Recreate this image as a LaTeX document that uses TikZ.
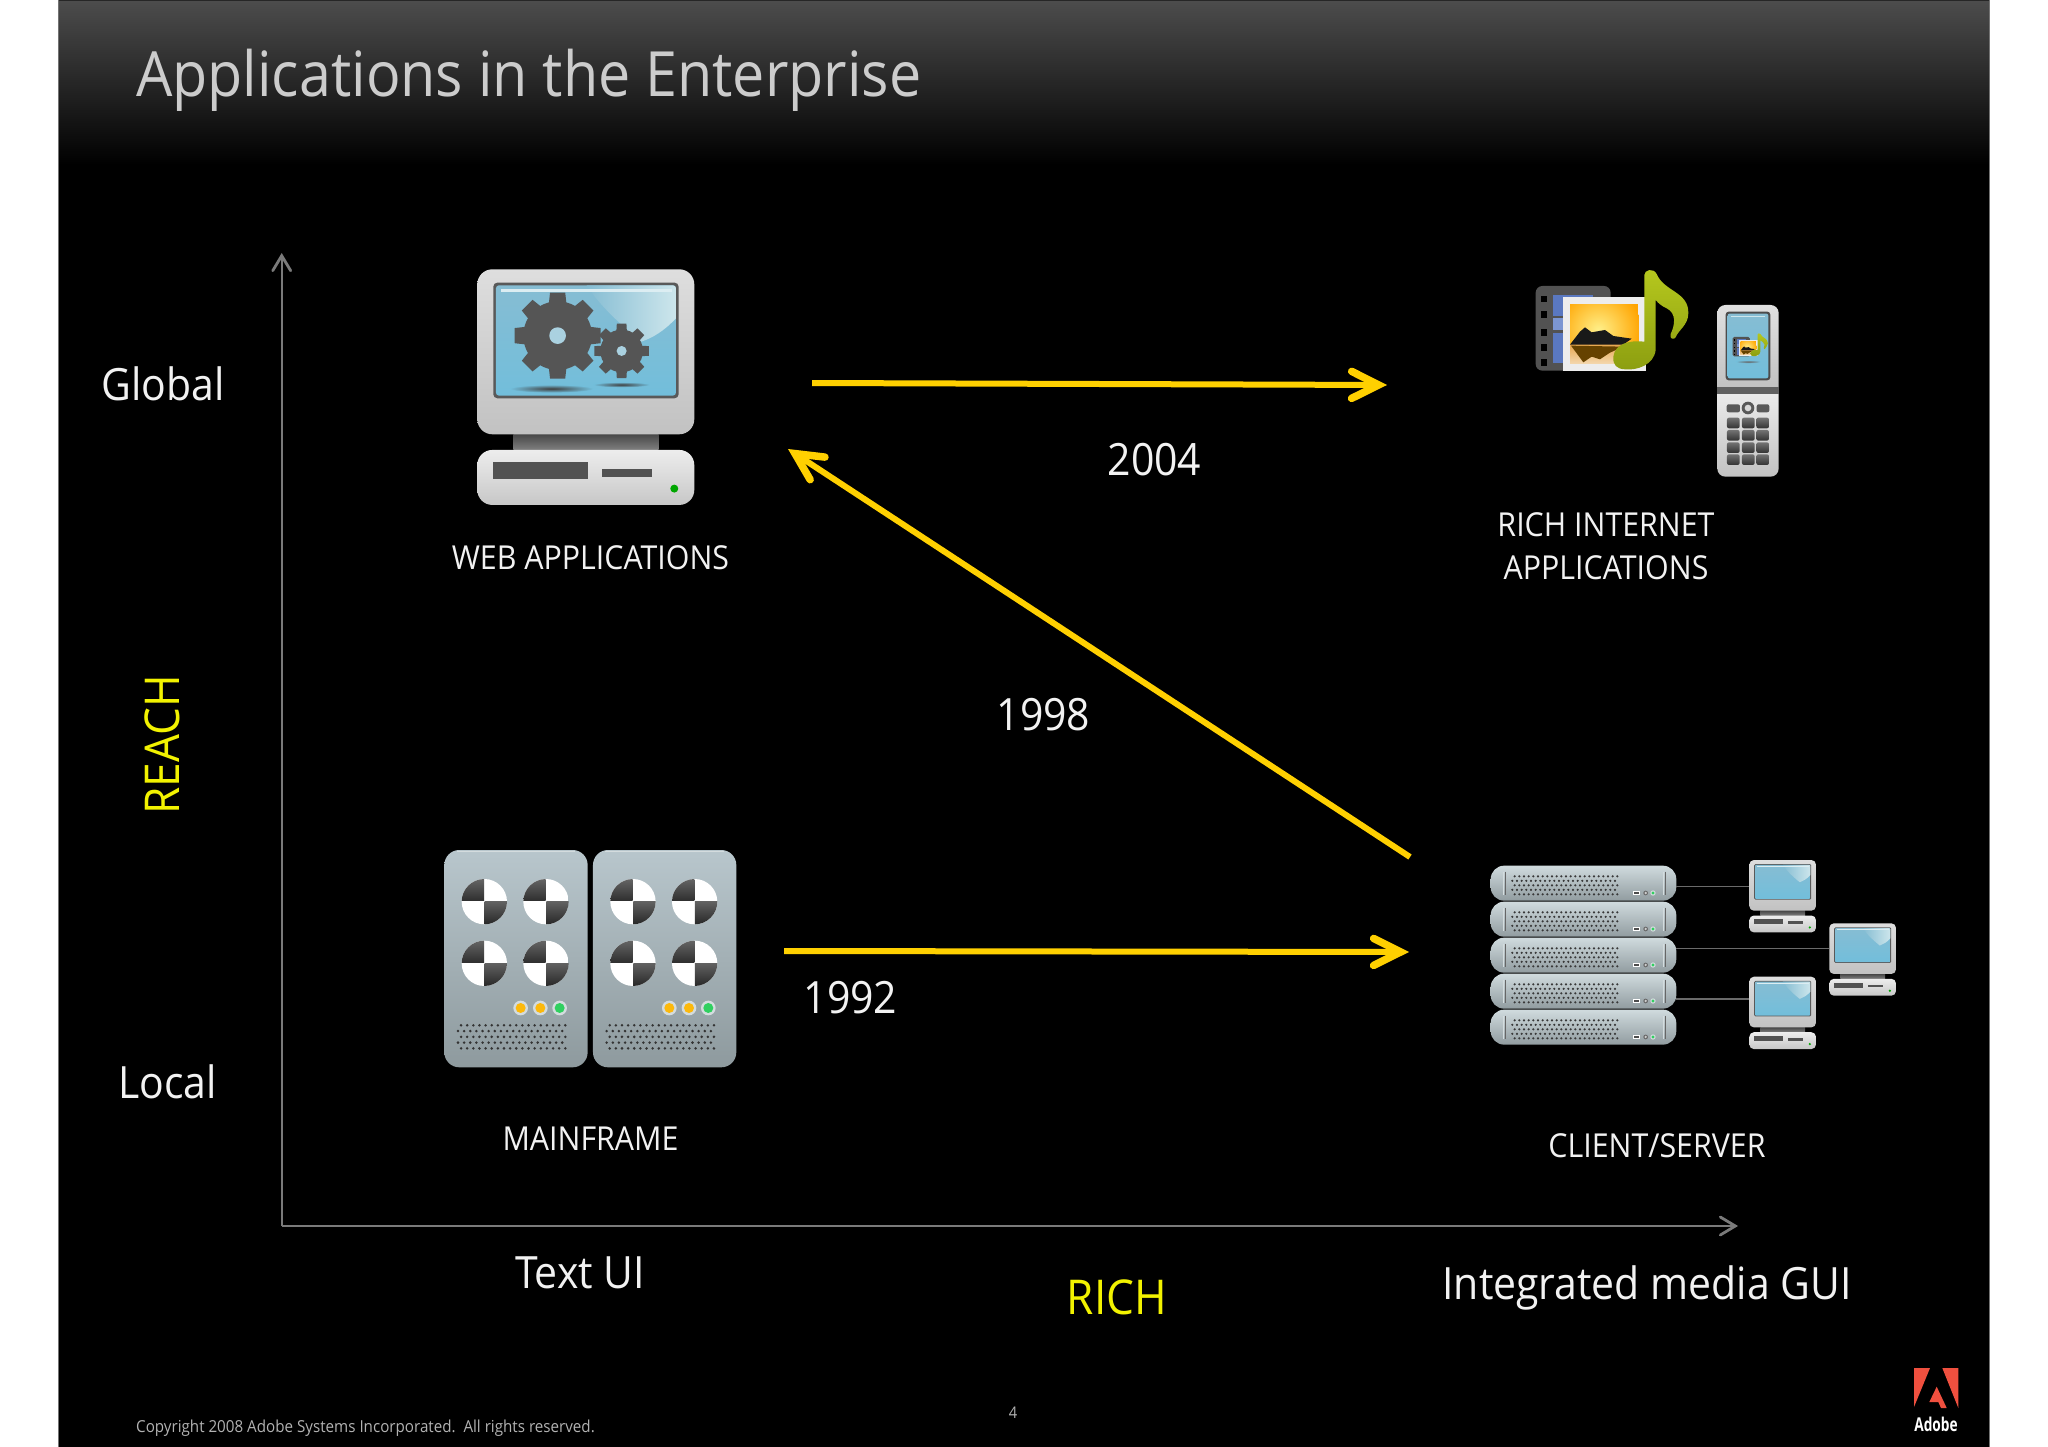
\documentclass[tikz,border=0pt]{standalone}
\usepackage{fontspec}
\setmainfont[FakeStretch=0.92]{Open Sans}
\newfontfamily\adobefont[FakeStretch=0.72]{Open Sans}
\usetikzlibrary{arrows.meta}
\definecolor{arrowy}{HTML}{FFD000}
\definecolor{labely}{HTML}{F2F200}
\definecolor{axisg}{HTML}{7A7A7A}
\definecolor{wirec}{HTML}{6A6A6A}
\definecolor{gearc}{HTML}{555555}
\definecolor{adobered}{HTML}{F0503F}
\definecolor{labelw}{HTML}{F2F2F2}
\tikzset{
  lbl/.style={anchor=base,text=labelw,inner sep=0pt,font=\fontsize{33}{33}\selectfont},
  biglbl/.style={lbl,font=\fontsize{44.5}{44.5}\selectfont},
  ylbl/.style={lbl,text=labely,font=\fontsize{48}{48}\selectfont},
  flow/.style={draw=arrowy,line width=6pt,-{Straight Barb[length=27pt,width=27pt,line width=7.5pt,line cap=round,line join=miter]}},
  axisline/.style={draw=axisg,line width=2.4pt,-{Straight Barb[length=15pt,width=18pt,line width=2.8pt,line cap=round,line join=miter]}},
  wire/.style={draw=wirec,line width=1.6pt},
}
% gear: cx cy root tip holeR
\newcommand{\gearshape}[5]{%
  \fill[gearc] (#1,#2) circle (#3);
  \foreach \a in {0,45,...,315}{
    \fill[gearc] ([shift={(#1,#2)}]\a-16:#3-6) -- ([shift={(#1,#2)}]\a-10:#4) -- ([shift={(#1,#2)}]\a+10:#4) -- ([shift={(#1,#2)}]\a+16:#3-6) -- cycle;
  }
  \fill[HiA!70!white] (#1,#2) circle (#5);
}
\definecolor{HiA}{HTML}{86BDD3}
\definecolor{HiB}{HTML}{72BEDB}
\definecolor{HiC}{HTML}{CDE6EC}
% computer: X Y scale (X,Y = top-left of monitor, px) ; #4 extra drawing in screen
\newcommand{\pccomp}[4]{%
\begin{scope}[shift={({#1-112*#3},{#2-58*#3})},x=#3pt,y=-#3pt]
  \shade[top color=black!72,bottom color=black!50] (220,553) rectangle (656,600);
  \shade[top color=black!13,bottom color=black!24,rounded corners={#3*45pt}] (112,58) rectangle (763,553);
  \shade[top color=black!7,bottom color=black!22,rounded corners={#3*45pt}] (112,600) rectangle (763,765);
  \fill[black!68] (160,637) rectangle (443,686);
  \fill[black!68] (487,657) rectangle (635,682);
  \fill[green!65!black] (703,716) circle (12);
  \fill[black!65,rounded corners={#3*12pt}] (160,98) rectangle (716,445);
  \begin{scope}
    \clip[rounded corners={#3*9pt}] (168,106) rectangle (708,437);
    \shade[top color=HiA,bottom color=HiB] (168,106) rectangle (708,437);
    \shade[left color=HiA,right color=HiC] (440,106) -- (708,106) -- (708,205) .. controls (670,245) and (640,262) .. (605,275) .. controls (560,240) and (480,170) .. (440,106) -- cycle;
    \draw[line width={#3*9pt},HiC!70!white] (183,122) -- (695,122);
    #4
  \end{scope}
\end{scope}}
% media icon
\definecolor{HTML5A}{HTML}{5A78C0}
\definecolor{HTML7A}{HTML}{7C96D2}
\definecolor{HTMLFA}{HTML}{FFA400}
\definecolor{HTMLFE}{HTML}{FFF08A}
\definecolor{HTMLFB}{HTML}{E8A850}
\definecolor{HTMLFC}{HTML}{F4D8B0}
\definecolor{HTMLGA}{HTML}{B6C81E}
\definecolor{HTMLGB}{HTML}{8C9E10}
\newcommand{\mediaicon}[3]{%
\begin{scope}[shift={(#1,#2)},x=#3pt,y=-#3pt]
  \fill[black!68,rounded corners={#3*20pt}] (77,108) rectangle (302,362);
  \foreach \v in {137,183,237,283,328}{
    \fill[black] (92,\v) rectangle (111,\v+20);
  }
  \fill[HTML5A] (130,135) rectangle (250,198);
  \fill[HTML7A] (130,205) rectangle (165,240);
  \fill[HTML5A] (130,248) rectangle (165,340);
  \fill[white!93!black] (160,142) rectangle (407,362);
  \begin{scope}
    \clip (180,163) rectangle (385,342);
    \fill[HTMLFA] (180,163) rectangle (385,342);
    \shade[inner color=HTMLFE,outer color=HTMLFA] (265,240) circle (130);
    \shade[top color=HTMLFB,bottom color=HTMLFC] (180,284) rectangle (385,342);
    \fill[black!90] (180,284) -- (210,245) -- (225,232) -- (245,247) -- (285,240) -- (310,258) -- (365,266) -- (340,284) -- cycle;
    \fill[black!60!HTMLFA] (183,287) -- (220,337) -- (245,320) -- (270,328) -- (300,308) -- (340,290) -- cycle;
  \end{scope}
  \shade[top color=HTMLGA,bottom color=HTMLGB] (403,75) .. controls (403,60) and (430,52) .. (440,72) .. controls (462,125) and (537,125) .. (535,190) .. controls (535,225) and (505,240) .. (497,262) .. controls (492,270) and (478,268) .. (482,252) .. controls (495,225) and (500,190) .. (470,175) .. controls (455,168) and (445,160) .. (437,150) -- (437,300) .. controls (432,345) and (380,362) .. (345,358) .. controls (320,357) and (308,345) .. (310,320) .. controls (315,280) and (360,270) .. (403,275) -- cycle;
\end{scope}}
% dot grille
\newcommand{\grille}[6]{% x0 y0 dx dy cols rows
  \foreach \r in {1,...,#6}{
    \foreach \c in {1,...,#5}{
      \fill[black!80] ({#1+(\c-1)*#3+mod(\r,2)*#3/2},{#2+(\r-1)*#4}) circle (4.2);
    }
  }}
\newcommand{\disk}[2]{%
\begin{scope}
  \clip (#1,#2) circle (68);
  \fill[white] (#1-70,#2-70) rectangle (#1+70,#2+70);
  \shade[top color=black!60,bottom color=black!82] (#1-70,#2-70) rectangle (#1-1,#2-2);
  \shade[top color=black!62,bottom color=black!85] (#1+1,#2+0) rectangle (#1+70,#2+70);
\end{scope}}
\definecolor{HTMLCA}{HTML}{B8C6CC}
\definecolor{HTMLCB}{HTML}{AAB8BE}
\definecolor{HTMLCC}{HTML}{8E9A9E}
\definecolor{HTMLCD}{HTML}{D4DCDE}
\definecolor{HTMLLY}{HTML}{FCB90C}
\definecolor{HTMLLG}{HTML}{30D060}
\newcommand{\cabinet}[1]{%
  \shade[top color=HTMLCA,middle color=HTMLCB,bottom color=HTMLCC,rounded corners=15pt] (43+#1,60) rectangle (473+#1,712);
  \draw[HTMLCD,line width=1.5pt] (80+#1,65) -- (436+#1,65);
  \disk{163+#1}{215}\disk{348+#1}{215}\disk{163+#1}{400}\disk{348+#1}{400}
  \foreach \lx in {272,331}{
    \fill[HTMLCD] (\lx+#1,534) circle (22);
    \fill[HTMLLY] (\lx+#1,534) circle (15);
  }
  \fill[HTMLCD] (389+#1,534) circle (22);
  \fill[HTMLLG] (389+#1,534) circle (15);
  \grille{84+#1}{586}{18.4}{17.3}{18}{5}
}
\definecolor{HTMLRA}{HTML}{D0DBDE}
\definecolor{HTMLRB}{HTML}{B4C0C4}
\definecolor{HTMLRC}{HTML}{919CA0}
\newcommand{\rackunit}[1]{%
  \shade[top color=HTMLRA,middle color=HTMLRB,bottom color=HTMLRC,rounded corners=13.5pt] (62,#1) rectangle (619,#1+105);
  \draw[HTMLCD,line width=1.4pt] (100,#1+18) -- (100,#1+88);
  \draw[HTMLCD,line width=1.4pt] (581,#1+18) -- (581,#1+88);
  \draw[black!60,line width=.9pt] (105,#1+18) -- (105,#1+88);
  \draw[black!60,line width=.9pt] (586,#1+18) -- (586,#1+88);
  \foreach \r in {1,...,5}{
    \foreach \c in {1,...,23}{
      \fill[black!78] ({130+(\c-1)*14+mod(\r,2)*7-3},{#1+32+(\r-1)*13.5}) circle (3.6);
    }
  }
  \fill[white] (489,#1+77) rectangle (510,#1+88);
  \fill[black!70] (493,#1+80) rectangle (506,#1+85);
  \fill[black!60] (527,#1+82) circle (7);
  \fill[black!20] (527,#1+82) circle (4);
  \fill[HTMLCD] (549,#1+82) circle (8);
  \fill[HTMLLG] (549,#1+82) circle (5);
}
\begin{document}
\begin{tikzpicture}[x=1pt,y=-1pt]
\useasboundingbox (0,0) rectangle (2048,1447);
\fill[white] (0,0) rectangle (2048,1447);
\fill[black] (58.5,0) rectangle (1989,1447);
\shade[top color=black!70,bottom color=black] (58.5,0) rectangle (1989,165);
\draw[black!85,line width=1.5pt] (58.5,0.7) -- (1989,0.7);
\draw[black!55,line width=1pt] (58.5,0) -- (58.5,1447);
\draw[black!55,line width=1pt] (1989,0) -- (1989,1447);

% title and footer
\node[anchor=base west,inner sep=0pt,text=black!20,font=\fontsize{62.4}{62.4}\selectfont] (title) at (136,97) {Applications in the Enterprise};
\node[anchor=base west,inner sep=0pt,text=black!30,font=\fontsize{16.5}{17}\selectfont] (copy) at (136,1432) {Copyright 2008 Adobe Systems Incorporated.\ \ All rights reserved.};
\node[anchor=base,inner sep=0pt,text=black!30,font=\fontsize{16}{16}\selectfont] (pageno) at (1013,1418) {4};

% axes
\coordinate (origin) at (281.7,1226);
\coordinate (ytip) at (281.7,253);
\coordinate (xtip) at (1738,1226);
\draw[axisline] (origin) -- (ytip);
\draw[axisline] (origin) -- (xtip);

% axis labels
\node[biglbl] (global) at (163,400) {Global};
\node[biglbl] (local) at (167.5,1098) {Local};
\node[ylbl,rotate=90,anchor=center] (reach) at (162.5,745) {REACH};
\node[biglbl] (textui) at (580,1288) {Text UI};
\node[ylbl] (rich) at (1117,1314) {RICH};
\node[biglbl] (imgui) at (1647,1299) {Integrated media GUI};

% web applications icon
\pccomp{477.3}{269.3}{0.3333}{
  \shade[inner color=black!75,outer color=HiB] (335,416) ellipse (125 and 12);
  \shade[inner color=black!75,outer color=HiB] (545,404) ellipse (85 and 8);
  \gearshape{353}{257}{103}{131}{25}
  \gearshape{545}{303}{64}{83}{15}
}
\node[lbl] (webl) at (590.5,569) {WEB APPLICATIONS};

% RIA icons
\mediaicon{1510}{250}{0.3333}
\begin{scope}[shift={(1510,250)},x=0.3333pt,y=-0.3333pt]
  \shade[top color=black!12,bottom color=black!24] (622,412) [rounded corners=8pt] -- (622,165) -- (806,165) [sharp corners] -- (806,412) -- cycle;
  \shade[top color=black!8,bottom color=black!24] (622,431) [rounded corners=8pt] -- (622,680) -- (806,680) [sharp corners] -- (806,431) -- cycle;
  \fill[black!62] (622,410) rectangle (806,433);
  \fill[black!70,rounded corners=3pt] (647,185) rectangle (781,391);
  \shade[top color=HiA,bottom color=HiB,rounded corners=2pt] (653,191) rectangle (775,385);
  \draw[HiC,line width=1.5pt] (663,200) -- (765,200);
  \shade[inner color=black!60,outer color=HiB] (715,335) ellipse (38 and 5);
  \fill[black!65,rounded corners=2pt] (650,463) rectangle (690,487);
  \fill[black!65,rounded corners=2pt] (740,463) rectangle (778,487);
  \fill[black!65] (714,474) circle (19);
  \fill[black!15] (714,474) circle (10);
  \foreach \kx in {651,696,739}{
    \foreach \ky in {503,540,577,613}{
      \shade[top color=black!55,bottom color=black!80,rounded corners=2pt] (\kx,\ky) rectangle (\kx+38,\ky+32);
    }
  }
\end{scope}
\mediaicon{1726.8}{328.7}{0.0767}
\node[lbl] (rial1) at (1606,536) {RICH INTERNET};
\node[lbl] (rial2) at (1606,579) {APPLICATIONS};

% mainframe icon
\begin{scope}[shift={(430,830)},x=0.3333pt,y=-0.3333pt]
  \cabinet{0}
  \cabinet{446}
\end{scope}
\node[lbl] (mainl) at (590.5,1150) {MAINFRAME};

% client/server icon
\begin{scope}[shift={(1470,840)},x=0.3333pt,y=-0.3333pt]
  \rackunit{77}
  \rackunit{185}
  \rackunit{293}
  \rackunit{401}
  \rackunit{509}
  \coordinate (srvA) at (619,140);
  \coordinate (srvB) at (619,325);
  \coordinate (srvC) at (619,477);
  \coordinate (pcA) at (838,140);
  \coordinate (pcB) at (1078,325);
  \coordinate (pcC) at (838,477);
\end{scope}
\draw[wire] (srvA) -- (pcA);
\draw[wire] (srvB) -- (pcB);
\draw[wire] (srvC) -- (pcC);
\pccomp{1749.3}{860}{0.1024}{}
\pccomp{1829.3}{923.3}{0.1024}{}
\pccomp{1749.3}{976.7}{0.1024}{}
\node[lbl] (csl) at (1657,1157) {CLIENT/SERVER};

% flows
\coordinate (a1s) at (784,951);
\coordinate (a1e) at (1409,952);
\coordinate (a2s) at (1410,857);
\coordinate (a2e) at (788,449);
\coordinate (a3s) at (812,383);
\coordinate (a3e) at (1387,385);
\draw[flow] (a1s) -- (a1e);
\draw[flow] (a2s) -- (a2e);
\draw[flow] (a3s) -- (a3e);
\node[biglbl] (y2004) at (1154.5,475) {2004};
\node[biglbl] (y1998) at (1043.5,730) {1998};
\node[biglbl] (y1992) at (850.5,1013) {1992};

% Adobe logo
\fill[adobered] (1914,1368) -- (1930,1368) -- (1914,1407) -- cycle;
\fill[adobered] (1942.3,1368) -- (1958.3,1368) -- (1958.3,1408) -- cycle;
\fill[adobered] (1936.7,1386.7) -- (1929.3,1402) -- (1938.3,1402) -- (1941,1408) -- (1946.7,1408) -- cycle;
\node[anchor=base,inner sep=0pt,text=white,font=\adobefont\bfseries\fontsize{19}{19}\selectfont] (adobe) at (1936,1431) {Adobe};
\end{tikzpicture}
\end{document}
